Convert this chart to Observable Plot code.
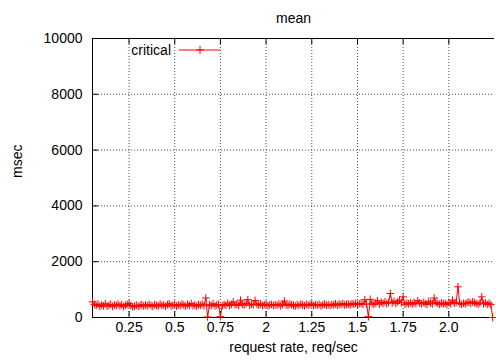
<!DOCTYPE html>
<html>
<head>
<meta charset="utf-8">
<script src="https://cdn.jsdelivr.net/npm/d3@7"></script>
<script src="https://cdn.jsdelivr.net/npm/@observablehq/plot@0.6"></script>
<style>
  html, body { margin: 0; padding: 0; background: white; }
  #wrap { position: relative; width: 496px; height: 360px; }
  #legend { position: absolute; left: 0; top: 0; pointer-events: none; }
</style>
</head>
<body>
<div id="wrap"></div>
<script>
// ---- data ----
const startRate = 0.05;
const rateStep = 0.01;
const meanMsec = [
  560, 470, 430, 480, 400, 450, 420, 490, 410, 440,
  470, 400, 450, 430, 480, 420, 460, 390, 440, 470,
  500, 430, 380, 410, 440, 400, 430, 460, 410, 450,
  420, 470, 430, 400, 460, 440, 410, 480, 430, 450,
  400, 460, 490, 420, 440, 470, 410, 450, 430, 480,
  440, 410, 470, 430, 500, 420, 450, 410, 460, 440,
  480, 420, 700, 20, 460, 430, 490, 410, 450, 470,
  30, 420, 460, 440, 510, 430, 470, 560, 450, 480,
  430, 620, 470, 450, 500, 640, 440, 480, 460, 610,
  470, 440, 490, 430, 460, 480, 420, 450, 470, 430,
  460, 440, 480, 420, 470, 590, 450, 430, 480, 460,
  440, 410, 460, 430, 480, 450, 420, 470, 440, 460,
  490, 430, 460, 440, 470, 420, 450, 480, 440, 460,
  430, 470, 450, 490, 440, 480, 460, 500, 450, 470,
  480, 450, 500, 470, 510, 460, 490, 500, 470, 640,
  480, 30, 650, 490, 470, 520, 600, 480, 540, 510,
  560, 500, 540, 860, 520, 580, 500, 560, 620, 530,
  740, 470, 510, 490, 530, 480, 540, 500, 600, 520,
  490, 540, 500, 470, 580, 520, 490, 700, 540, 500,
  470, 520, 490, 510, 460, 540, 490, 620, 510, 540,
  1100, 500, 470, 510, 490, 530, 550, 510, 560, 530,
  500, 480, 520, 740, 490, 530, 470, 510, 460, 0
];
const rates = meanMsec.map((_, i) => +(startRate + i * rateStep).toFixed(2));
const xTicks = [0.25, 0.5, 0.75, 1, 1.25, 1.5, 1.75, 2];
const xTickLabels = ["0.25", "0.5", "0.75", "2", "1.25", "1.5", "1.75", "2.0"];
const yTicks = [0, 2000, 4000, 6000, 8000, 10000];
const seriesName = "critical";
const titleText = "mean";
const xLabel = "request rate, req/sec";
const yLabel = "msec";

const data = rates.map((r, i) => ({rate: r, msec: meanMsec[i]}));

const W = 496, H = 360, mL = 92, mR = 2, mT = 38, mB = 43;
const fw = W - mL - mR, fh = H - mT - mB;
const red = "#ff0000";
const font = "'Liberation Sans', Arial, Helvetica, sans-serif";

const chart = Plot.plot({
  width: W, height: H,
  marginLeft: mL, marginRight: mR, marginTop: mT, marginBottom: mB,
  style: {fontFamily: font, fontSize: "14px", background: "white", color: "black", overflow: "visible"},
  x: {domain: [0.05, 2.25]},
  y: {domain: [0, 10000]},
  marks: [
    Plot.gridX(xTicks, {stroke: "#000", strokeOpacity: 0.7, strokeDasharray: "1,2"}),
    Plot.gridY(yTicks.slice(1, -1), {stroke: "#000", strokeOpacity: 0.7, strokeDasharray: "1,2"}),
    Plot.tickX(xTicks, {x: d => d, stroke: "black", insetTop: fh - 6}),
    Plot.tickX(xTicks, {x: d => d, stroke: "black", insetBottom: fh - 6}),
    Plot.tickY(yTicks, {y: d => d, stroke: "black", insetRight: fw - 6}),
    Plot.ruleY([0, 10000], {stroke: "black"}),
    Plot.ruleX([0.05], {stroke: "black"}),
    Plot.axisX(xTicks, {tickSize: 0, tickPadding: 5, fontSize: 14,
      tickFormat: d => xTickLabels[xTicks.indexOf(d)], label: null}),
    Plot.axisY(yTicks, {tickSize: 0, tickPadding: 10, fontSize: 14, tickFormat: d => String(d), label: null}),
    Plot.line(data, {x: "rate", y: "msec", stroke: red, strokeWidth: 1}),
    Plot.dot(data, {x: "rate", y: "msec", symbol: "plus", r: 2.6, stroke: red, strokeWidth: 1}),
    Plot.text([titleText], {text: d => d, frameAnchor: "top", dy: -25, fontSize: 14}),
    Plot.text([xLabel], {text: d => d, frameAnchor: "bottom", dy: 34, fontSize: 14}),
    Plot.text([yLabel], {text: d => d, frameAnchor: "left", dx: -75, rotate: -90, fontSize: 14})
  ]
});

const wrap = document.getElementById("wrap");
wrap.appendChild(chart);

// legend overlay (inside plot, top-left)
const ns = "http://www.w3.org/2000/svg";
const lg = document.createElementNS(ns, "svg");
lg.setAttribute("id", "legend");
lg.setAttribute("width", W);
lg.setAttribute("height", H);
const ly = 50;
const t = document.createElementNS(ns, "text");
t.setAttribute("x", 171);
t.setAttribute("y", ly);
t.setAttribute("dy", "0.35em");
t.setAttribute("text-anchor", "end");
t.setAttribute("font-family", font);
t.setAttribute("font-size", "14");
t.textContent = seriesName;
lg.appendChild(t);
const ln = document.createElementNS(ns, "line");
ln.setAttribute("x1", 179); ln.setAttribute("x2", 220);
ln.setAttribute("y1", ly); ln.setAttribute("y2", ly);
ln.setAttribute("stroke", red);
lg.appendChild(ln);
const pl = document.createElementNS(ns, "path");
pl.setAttribute("d", `M196,${ly}h8M200,${ly - 4}v8`);
pl.setAttribute("stroke", red);
pl.setAttribute("fill", "none");
lg.appendChild(pl);
wrap.appendChild(lg);
</script>
</body>
</html>
